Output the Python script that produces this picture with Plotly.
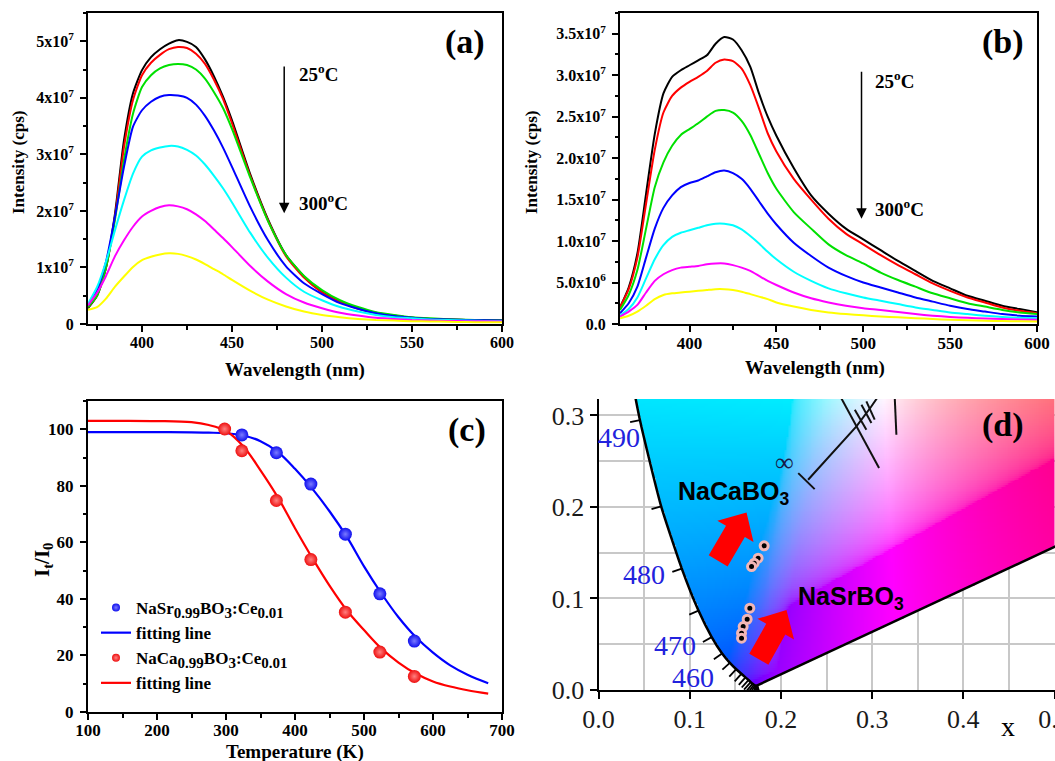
import numpy as np
import plotly.graph_objects as go

W, H = 1055, 761
SERIF = "Liberation Serif"
SANS = "Liberation Sans"


def px(x):
    return x / W


def py(y):
    return 1 - y / H


# ---------------- panel (a): NaSrBO3 emission spectra (units of 1e7 cps) ----------------
wl_a = [370, 375, 380, 385, 390, 395, 400, 405, 410, 415, 420, 425, 430, 435, 440, 445, 450,
        460, 470, 480, 490, 500, 510, 520, 530, 540, 550, 560, 570, 580, 590, 600]
black_a = [0.28, 0.5, 1.0, 1.95, 3.25, 4.08, 4.49, 4.72, 4.86, 4.96, 5.02, 4.99, 4.9, 4.68, 4.38, 4.02, 3.6,
           2.66, 1.85, 1.22, 0.84, 0.57, 0.4, 0.28, 0.2, 0.15, 0.11, 0.09, 0.08, 0.07, 0.065, 0.06]
red_a = [0.3, 0.5, 1.0, 1.9, 3.13, 3.96, 4.4, 4.62, 4.76, 4.86, 4.9, 4.88, 4.78, 4.6, 4.32, 3.98, 3.55,
         2.63, 1.83, 1.2, 0.82, 0.56, 0.39, 0.27, 0.19, 0.14, 0.11, 0.09, 0.08, 0.07, 0.065, 0.06]
green_a = [0.3, 0.5, 1.0, 1.85, 2.9, 3.72, 4.19, 4.4, 4.52, 4.58, 4.6, 4.58, 4.5, 4.34, 4.1, 3.82, 3.45,
           2.6, 1.82, 1.22, 0.85, 0.6, 0.42, 0.3, 0.21, 0.16, 0.12, 0.1, 0.085, 0.075, 0.07, 0.065]
blue_a = [0.33, 0.6, 1.1, 1.9, 2.78, 3.49, 3.78, 3.93, 4.02, 4.05, 4.04, 4.0, 3.88, 3.68, 3.42, 3.12, 2.78,
          2.08, 1.48, 1.02, 0.72, 0.53, 0.37, 0.27, 0.19, 0.14, 0.11, 0.09, 0.08, 0.07, 0.065, 0.06]
cyan_a = [0.36, 0.65, 1.1, 1.66, 2.19, 2.66, 2.96, 3.07, 3.12, 3.15, 3.14, 3.08, 2.98, 2.82, 2.62, 2.4, 2.15,
          1.62, 1.17, 0.82, 0.57, 0.42, 0.3, 0.22, 0.16, 0.12, 0.1, 0.08, 0.07, 0.06, 0.055, 0.05]
magenta_a = [0.33, 0.55, 0.85, 1.2, 1.48, 1.72, 1.9, 2.0, 2.07, 2.1, 2.08, 2.03, 1.94, 1.82, 1.67, 1.52, 1.36,
             1.03, 0.75, 0.53, 0.38, 0.28, 0.2, 0.15, 0.11, 0.09, 0.07, 0.06, 0.055, 0.05, 0.05, 0.045]
yellow_a = [0.25, 0.3, 0.45, 0.66, 0.84, 1.01, 1.13, 1.19, 1.23, 1.25, 1.24, 1.2, 1.14, 1.06, 0.97, 0.88, 0.78,
            0.59, 0.43, 0.31, 0.22, 0.16, 0.12, 0.09, 0.07, 0.06, 0.05, 0.045, 0.04, 0.035, 0.03, 0.03]

# ---------------- panel (b): NaCaBO3 emission spectra (units of 1e7 cps) ----------------
wl_b = [360, 365, 370, 375, 380, 385, 390, 395, 400, 405, 410, 415, 420, 425, 430, 435, 440, 445, 450,
        460, 470, 480, 490, 500, 510, 520, 530, 540, 550, 560, 570, 580, 590, 600]
black_b = [0.2, 0.44, 0.85, 1.57, 2.29, 2.78, 2.98, 3.06, 3.12, 3.18, 3.24, 3.38, 3.46, 3.43, 3.3, 3.1, 2.78, 2.5, 2.27,
           1.88, 1.55, 1.33, 1.15, 1.02, 0.89, 0.76, 0.64, 0.52, 0.43, 0.34, 0.28, 0.22, 0.18, 0.14]
red_b = [0.2, 0.42, 0.8, 1.45, 2.1, 2.55, 2.75, 2.85, 2.92, 2.98, 3.05, 3.15, 3.19, 3.17, 3.08, 2.88, 2.6, 2.3, 2.08,
         1.75, 1.5, 1.27, 1.09, 0.96, 0.83, 0.71, 0.6, 0.49, 0.4, 0.32, 0.26, 0.2, 0.16, 0.13]
green_b = [0.17, 0.35, 0.65, 1.15, 1.65, 1.95, 2.15, 2.28, 2.35, 2.42, 2.5, 2.57, 2.58, 2.55, 2.45, 2.28, 2.05, 1.82, 1.63,
           1.35, 1.15, 0.96, 0.83, 0.73, 0.62, 0.53, 0.45, 0.37, 0.31, 0.25, 0.21, 0.17, 0.14, 0.12]
blue_b = [0.13, 0.25, 0.45, 0.8, 1.15, 1.4, 1.55, 1.65, 1.7, 1.73, 1.78, 1.83, 1.85, 1.82, 1.75, 1.63, 1.48, 1.33, 1.2,
          0.98, 0.82, 0.68, 0.58, 0.5, 0.44, 0.38, 0.32, 0.27, 0.22, 0.18, 0.15, 0.12, 0.1, 0.09]
cyan_b = [0.1, 0.18, 0.32, 0.55, 0.78, 0.95, 1.05, 1.1, 1.13, 1.16, 1.19, 1.21, 1.21, 1.19, 1.14, 1.06, 0.97, 0.87, 0.78,
          0.63, 0.52, 0.43, 0.37, 0.32, 0.28, 0.24, 0.2, 0.17, 0.14, 0.12, 0.1, 0.085, 0.075, 0.07]
magenta_b = [0.09, 0.15, 0.23, 0.38, 0.52, 0.6, 0.65, 0.68, 0.69, 0.7, 0.72, 0.73, 0.73, 0.71, 0.68, 0.64, 0.58, 0.52, 0.47,
             0.38, 0.31, 0.26, 0.22, 0.19, 0.17, 0.145, 0.12, 0.1, 0.085, 0.075, 0.065, 0.06, 0.055, 0.05]
yellow_b = [0.07, 0.1, 0.15, 0.22, 0.3, 0.35, 0.37, 0.38, 0.39, 0.4, 0.41, 0.42, 0.42, 0.41, 0.39, 0.36, 0.33, 0.3, 0.26,
            0.21, 0.17, 0.14, 0.12, 0.105, 0.09, 0.08, 0.07, 0.06, 0.05, 0.045, 0.04, 0.035, 0.033, 0.03]

curve_colors = ["#000000", "#ff0000", "#00e000", "#0000ff", "#00ffff", "#ff00ff", "#ffff00"]

# ---------------- panel (c): thermal quenching ----------------
temp_sr = [323, 373, 423, 473, 523, 573]
ratio_sr = [98.0, 91.7, 80.6, 62.9, 41.8, 25.1]
temp_ca = [298, 323, 373, 423, 473, 523, 573]
ratio_ca = [100.1, 92.4, 74.8, 53.9, 35.3, 21.2, 12.6]
fit_t = [100, 150, 200, 250, 275, 300, 325, 350, 375, 400, 425, 450, 475, 500, 525, 550, 575, 600, 625, 650, 680]
fit_sr = [99, 99, 99, 98.9, 98.8, 98.6, 97.8, 95.8, 92, 86, 79, 71, 62, 51.5, 42, 33.5, 26.5, 21, 16.5, 13.2, 10.2]
fit_ca = [103, 103, 102.9, 102.5, 101.5, 99.4, 94, 85.5, 76, 65, 54.5, 44.7, 36, 29, 22.5, 17.5, 13.6, 10.8, 9, 7.7, 6.5]

# ---------------- panel (d): CIE 1931 chromaticity ----------------
locus_nm = [380, 385, 390, 395, 400, 405, 410, 415, 420, 425, 430, 435, 440, 445, 450, 455, 460, 465, 470, 475,
            480, 485, 490, 495, 500, 505, 510, 520, 530, 540, 550, 560, 570, 580, 590, 600, 620, 640, 700]
locus_x = [0.1741, 0.1740, 0.1738, 0.1736, 0.1733, 0.1730, 0.1726, 0.1721, 0.1714, 0.1703, 0.1689, 0.1669, 0.1644,
           0.1611, 0.1566, 0.1510, 0.1440, 0.1355, 0.1241, 0.1096, 0.0913, 0.0687, 0.0454, 0.0235, 0.0082, 0.0039,
           0.0139, 0.0743, 0.1547, 0.2296, 0.3016, 0.3731, 0.4441, 0.5125, 0.5752, 0.6270, 0.6915, 0.7190, 0.7347]
locus_y = [0.0050, 0.0050, 0.0049, 0.0049, 0.0048, 0.0048, 0.0048, 0.0048, 0.0051, 0.0058, 0.0069, 0.0086, 0.0109,
           0.0138, 0.0177, 0.0227, 0.0297, 0.0399, 0.0578, 0.0868, 0.1327, 0.2007, 0.2950, 0.4127, 0.5384, 0.6548,
           0.7502, 0.8338, 0.8059, 0.7543, 0.6923, 0.6245, 0.5547, 0.4866, 0.4242, 0.3725, 0.3083, 0.2809, 0.2653]
cie_ca_x = [0.1816, 0.1750, 0.1707, 0.1678]
cie_ca_y = [0.1575, 0.1441, 0.1386, 0.1349]
cie_sr_x = [0.1659, 0.1630, 0.1586, 0.1568, 0.1568]
cie_sr_y = [0.0894, 0.0773, 0.0693, 0.0620, 0.0566]
wl_labels = ["490", "480", "470", "460", "380"]
wl_label_x = [0.022, 0.050, 0.084, 0.104, 0.212]
wl_label_y = [0.276, 0.126, 0.049, 0.014, -0.002]
planck_x = [0.2298, 0.2828, 0.2985, 0.3075]
planck_y = [0.2298, 0.2880, 0.3090, 0.3220]
iso_lines = [  # (x0, y0, x1, y1)
    (0.2190, 0.2370, 0.2370, 0.2195),
    (0.2645, 0.3220, 0.3076, 0.2426),
    (0.2810, 0.3063, 0.2937, 0.2845),
    (0.2883, 0.3118, 0.2992, 0.2918),
    (0.2937, 0.3154, 0.3028, 0.2954),
    (0.3247, 0.3220, 0.3266, 0.2790),
]

fig = go.Figure()

# ---- spectra
series_a = [black_a, red_a, green_a, blue_a, cyan_a, magenta_a, yellow_a]
series_b = [black_b, red_b, green_b, blue_b, cyan_b, magenta_b, yellow_b]
for s, c in zip(series_a, curve_colors):
    fig.add_trace(go.Scatter(x=wl_a, y=[v * 1e7 for v in s], mode="lines", xaxis="x", yaxis="y",
                             line=dict(color=c, width=2, shape="spline", smoothing=0.6),
                             showlegend=False, hoverinfo="skip"))
for s, c in zip(series_b, curve_colors):
    fig.add_trace(go.Scatter(x=wl_b, y=[v * 1e7 for v in s], mode="lines", xaxis="x2", yaxis="y2",
                             line=dict(color=c, width=2, shape="spline", smoothing=0.6),
                             showlegend=False, hoverinfo="skip"))

# ---- thermal quenching
SUB = "<sub><span style='font-size:15px'>{}</span></sub>"
name_sr = "NaSr" + SUB.format("0.99") + "BO" + SUB.format("3") + ":Ce" + SUB.format("0.01")
name_ca = "NaCa" + SUB.format("0.99") + "BO" + SUB.format("3") + ":Ce" + SUB.format("0.01")
sr_marker = dict(color="#1010ee", gradient=dict(type="radial", color="#7a7aff"), line=dict(width=0))
ca_marker = dict(color="#ee1010", gradient=dict(type="radial", color="#ff8080"), line=dict(width=0))
fig.add_trace(go.Scatter(x=fit_t, y=fit_sr, mode="lines", xaxis="x3", yaxis="y3", name="fitting line",
                         line=dict(color="#0000ff", width=2.2, shape="spline"), legendrank=2))
fig.add_trace(go.Scatter(x=fit_t, y=fit_ca, mode="lines", xaxis="x3", yaxis="y3", name="fitting line",
                         line=dict(color="#ff0000", width=2.2, shape="spline"), legendrank=4))
fig.add_trace(go.Scatter(x=temp_sr, y=ratio_sr, mode="markers", xaxis="x3", yaxis="y3", name=name_sr,
                         marker=dict(size=13, **sr_marker), showlegend=False))
fig.add_trace(go.Scatter(x=temp_ca, y=ratio_ca, mode="markers", xaxis="x3", yaxis="y3", name=name_ca,
                         marker=dict(size=13, **ca_marker), showlegend=False))
# legend-only entries with the small symbols used in the legend box
fig.add_trace(go.Scatter(x=[None], y=[None], mode="markers", xaxis="x3", yaxis="y3", name=name_sr,
                         marker=dict(size=8, **sr_marker), legendrank=1))
fig.add_trace(go.Scatter(x=[None], y=[None], mode="markers", xaxis="x3", yaxis="y3", name=name_ca,
                         marker=dict(size=8, **ca_marker), legendrank=3))

# ---- CIE background (colour of each chromaticity inside the spectral locus)
gx = np.arange(0.001, 0.5, 0.002)
gy = np.arange(0.001, 0.318, 0.002)
XX, YY = np.meshgrid(gx, gy)
lx = np.array(locus_x)
ly = np.array(locus_y)
inside = np.zeros(XX.shape, dtype=bool)
j = len(lx) - 1
for i in range(len(lx)):
    xi, yi, xj, yj = lx[i], ly[i], lx[j], ly[j]
    cond = ((yi > YY) != (yj > YY)) & (XX < (xj - xi) * (YY - yi) / (yj - yi + 1e-12) + xi)
    inside ^= cond
    j = i
Xc = XX / YY
Zc = (1 - XX - YY) / YY
XYZ = np.stack([Xc, np.ones_like(Xc), Zc], axis=-1)
M_srgb = np.array([[3.2406, -1.5372, -0.4986], [-0.9689, 1.8758, 0.0415], [0.0557, -0.2040, 1.0570]])
M_cie = np.array([[2.3647, -0.8966, -0.4681], [-0.5152, 1.4264, 0.0887], [0.0052, -0.0144, 1.0092]])


def to_rgb(M):
    v = np.clip(XYZ @ M.T, 0, None)
    return v / v.max(axis=-1, keepdims=True)


rgb_s = to_rgb(M_srgb)
rgb_c = to_rgb(M_cie)
wgt = np.clip(rgb_s[..., :1] * 4, 0, 1)
rgb = (wgt * rgb_s + (1 - wgt) * rgb_c) ** 0.38
img = np.zeros(XX.shape + (4,), dtype=int)
img[..., :3] = np.round(rgb * 255).astype(int)
img[..., 3] = np.where(inside, 255, 0)
fig.add_trace(go.Image(z=img.tolist(), x0=0.001, dx=0.002, y0=0.001, dy=0.002, colormodel="rgba256",
                       zsmooth="fast", xaxis="x4", yaxis="y4", hoverinfo="skip"))

# spectral locus line and purple line
vis = [k for k, nm in enumerate(locus_nm) if nm <= 505]
fig.add_trace(go.Scatter(x=[locus_x[k] for k in vis], y=[locus_y[k] for k in vis], mode="lines",
                         xaxis="x4", yaxis="y4", line=dict(color="black", width=2.5, shape="spline", smoothing=0.5),
                         showlegend=False, hoverinfo="skip"))
fig.add_trace(go.Scatter(x=[locus_x[0], locus_x[-1]], y=[locus_y[0], locus_y[-1]], mode="lines",
                         xaxis="x4", yaxis="y4", line=dict(color="black", width=2.5),
                         showlegend=False, hoverinfo="skip"))
# wavelength tick marks (outward normals of the locus)
tk_x, tk_y = [], []
for k, nm in enumerate(locus_nm):
    if nm > 490:
        break
    a = max(k - 1, 0)
    b = k + 1
    tx, ty = lx[b] - lx[a], ly[b] - ly[a]
    nrm = np.hypot(tx, ty)
    nx, ny = -ty / nrm, tx / nrm
    tk_x += [lx[k], lx[k] + 0.011 * nx, None]
    tk_y += [ly[k], ly[k] + 0.011 * ny, None]
fig.add_trace(go.Scatter(x=tk_x, y=tk_y, mode="lines", xaxis="x4", yaxis="y4",
                         line=dict(color="black", width=1.8), showlegend=False, hoverinfo="skip"))
# Planckian locus and isotemperature lines
fig.add_trace(go.Scatter(x=planck_x, y=planck_y, mode="lines", xaxis="x4", yaxis="y4",
                         line=dict(color="#111111", width=2), showlegend=False, hoverinfo="skip"))
iso_x, iso_y = [], []
for x0, y0, x1, y1 in iso_lines:
    iso_x += [x0, x1, None]
    iso_y += [y0, y1, None]
fig.add_trace(go.Scatter(x=iso_x, y=iso_y, mode="lines", xaxis="x4", yaxis="y4",
                         line=dict(color="#111111", width=2), showlegend=False, hoverinfo="skip"))
# measured colour points
for cx, cy in [(cie_ca_x, cie_ca_y), (cie_sr_x, cie_sr_y)]:
    fig.add_trace(go.Scatter(x=cx, y=cy, mode="markers", xaxis="x4", yaxis="y4",
                             marker=dict(color="black", size=8, line=dict(color="#f2b6b6", width=3)),
                             showlegend=False, hoverinfo="skip"))


# ---- block arrows (red) in panel (d)
def block_arrow(tail, tip, shaft_hw=0.012, head_hw=0.023, head_len=0.024):
    tx, ty = tail
    hx, hy = tip
    dx, dy = hx - tx, hy - ty
    L = np.hypot(dx, dy)
    ux, uy = dx / L, dy / L
    nx, ny = -uy, ux
    bx, by = hx - head_len * ux, hy - head_len * uy
    pts = [(tx + shaft_hw * nx, ty + shaft_hw * ny), (bx + shaft_hw * nx, by + shaft_hw * ny),
           (bx + head_hw * nx, by + head_hw * ny), (hx, hy),
           (bx - head_hw * nx, by - head_hw * ny), (bx - shaft_hw * nx, by - shaft_hw * ny),
           (tx - shaft_hw * nx, ty - shaft_hw * ny)]
    path = "M " + " L ".join(f"{x:.5f},{y:.5f}" for x, y in pts) + " Z"
    return dict(type="path", path=path, xref="x4", yref="y4", fillcolor="#ff0000",
                line=dict(width=0), layer="above")


shapes = [block_arrow((0.1312, 0.1411), (0.1623, 0.1940)),
          block_arrow((0.1758, 0.0336), (0.2061, 0.0875))]

# ---------------- axes ----------------


def frame_axis(domain, rng, font_size=16, standoff=3, **kw):
    d = dict(domain=domain, range=rng, showline=True, linecolor="black", linewidth=2, mirror=True,
             ticks="outside", ticklen=6, tickwidth=1.5, tickcolor="black", showgrid=False, zeroline=False,
             automargin=False, ticklabelstandoff=standoff,
             tickfont=dict(family=SERIF, size=font_size, color="black", weight="bold"))
    d.update(kw)
    return d


minor_style = dict(ticks="outside", ticklen=3.5, tickwidth=1.5, tickcolor="black")

ya_vals = [0, 1e7, 2e7, 3e7, 4e7, 5e7]
ya_text = ["0"] + [f"{k}x10<sup>7</sup>" for k in range(1, 6)]
yb_vals = [0, 5e6, 1e7, 1.5e7, 2e7, 2.5e7, 3e7, 3.5e7]
yb_text = ["0.0", "5.0x10<sup>6</sup>", "1.0x10<sup>7</sup>", "1.5x10<sup>7</sup>", "2.0x10<sup>7</sup>",
           "2.5x10<sup>7</sup>", "3.0x10<sup>7</sup>", "3.5x10<sup>7</sup>"]
wl_ticks = [400, 450, 500, 550, 600]

top_dom = [py(324), py(13)]
fig.update_layout(
    xaxis=frame_axis([px(88), px(502)], [370, 600], standoff=-3, tickvals=wl_ticks,
                     minor=dict(dtick=25, tick0=375, **minor_style), anchor="y"),
    yaxis=frame_axis(top_dom, [0, 5.5e7], tickvals=ya_vals, ticktext=ya_text,
                     minor=dict(dtick=5e6, tick0=0, **minor_style), anchor="x"),
    xaxis2=frame_axis([px(620), px(1037)], [360, 600], font_size=17, standoff=-3, tickvals=wl_ticks,
                      minor=dict(dtick=25, tick0=375, **minor_style), anchor="y2"),
    yaxis2=frame_axis(top_dom, [0, 3.75e7], font_size=16, tickvals=yb_vals, ticktext=yb_text,
                      minor=dict(dtick=2.5e6, tick0=0, **minor_style), anchor="x2"),
    xaxis3=frame_axis([px(88), px(502)], [100, 700], font_size=17, standoff=-4, dtick=100, tick0=100,
                      minor=dict(dtick=50, tick0=100, **minor_style), anchor="y3"),
    yaxis3=frame_axis([py(712), py(401)], [0, 110], font_size=17, dtick=20, tick0=0,
                      minor=dict(dtick=10, tick0=0, **minor_style), anchor="x3"),
    xaxis4=dict(domain=[px(598.5), 1.0], range=[0, 0.5005], anchor="y4", showline=True, linecolor="black",
                linewidth=2, ticks="outside", ticklen=7, tickwidth=1.5, tickcolor="black", dtick=0.1, tick0=0,
                tickformat=".1f", showgrid=True, gridcolor="#c8c8c8", gridwidth=1.5, zeroline=False,
                minor=dict(dtick=0.05, tick0=0, showgrid=True, gridcolor="#c8c8c8", gridwidth=1.5),
                ticklabeloverflow="allow", automargin=False, ticklabelstandoff=-2,
                tickfont=dict(family=SERIF, size=26, color="#1a1a1a")),
    yaxis4=dict(domain=[py(690), py(399)], range=[0, 0.318], anchor="x4", showline=True, linecolor="black",
                linewidth=2, ticks="outside", ticklen=7, tickwidth=1.5, tickcolor="black", dtick=0.1, tick0=0,
                tickformat=".1f", showgrid=True, gridcolor="#c8c8c8", gridwidth=1.5, zeroline=False,
                minor=dict(dtick=0.05, tick0=0, showgrid=True, gridcolor="#c8c8c8", gridwidth=1.5),
                scaleanchor=False, autorange=False, automargin=False,
                tickfont=dict(family=SERIF, size=26, color="#1a1a1a")),
)

ann = []


def label(text, x, y, size, angle=0, weight="bold", family=SERIF, color="black", xanchor="center",
          xref="paper", yref="paper"):
    ann.append(dict(text=text, x=x, y=y, xref=xref, yref=yref, showarrow=False, textangle=angle,
                    xanchor=xanchor, yanchor="middle",
                    font=dict(family=family, size=size, color=color, weight=weight)))


# axis titles
label("Intensity (cps)", px(18), py(163), 17, angle=-90)
label("Wavelength (nm)", px(295), py(370), 19)
label("Intensity (cps)", px(531), py(163), 17, angle=-90)
label("Wavelength (nm)", px(815), py(368), 19)
label("I<sub>t</sub>/I<sub>0</sub>", px(43), py(560), 21, angle=-90)
label("Temperature (K)", px(295), py(752), 19)
label("x", px(1008), py(726), 28, weight="normal")
# panel labels
label("(a)", px(465), py(42), 34)
label("(b)", px(1003), py(42), 34)
label("(c)", px(467), py(430), 34)
label("(d)", px(1003), py(425), 34)
# temperature annotations
label("25<sup>o</sup>C", px(297), py(73), 19, xanchor="left")
label("300<sup>o</sup>C", px(297), py(202), 19, xanchor="left")
label("25<sup>o</sup>C", px(873), py(80), 19, xanchor="left")
label("300<sup>o</sup>C", px(873), py(208), 19, xanchor="left")
for arrow_x, y_top, y_bot, xr, yr in [(479, 4.58e7, 1.96e7, "x", "y"), (499, 3.06e7, 1.27e7, "x2", "y2")]:
    ann.append(dict(x=arrow_x, y=y_bot, ax=arrow_x, ay=y_top, xref=xr, yref=yr, axref=xr, ayref=yr,
                    text="", showarrow=True, arrowhead=2, arrowsize=1.4, arrowwidth=1.5, arrowcolor="black"))
# CIE labels
for t, x, y in zip(wl_labels, wl_label_x, wl_label_y):
    label(t, x, y, 28, weight="normal", color="#2222dd", xref="x4", yref="y4")
label("\u221e", 0.2035, 0.2487, 26, weight="normal", color="#1a1a4a", xref="x4", yref="y4")
label("NaCaBO<sub>3</sub>", 0.1476, 0.215, 25, family=SANS, xref="x4", yref="y4")
label("NaSrBO<sub>3</sub>", 0.2773, 0.100, 25, family=SANS, xref="x4", yref="y4")

fig.update_layout(
    width=W, height=H, margin=dict(l=0, r=0, t=0, b=0, pad=0, autoexpand=False),
    paper_bgcolor="white", plot_bgcolor="white",
    annotations=ann, shapes=shapes,
    showlegend=True,
    legend=dict(x=px(96), y=py(590), xanchor="left", yanchor="top", bgcolor="rgba(0,0,0,0)",
                font=dict(family=SERIF, size=17, color="black", weight="bold"), tracegroupgap=0,
                itemwidth=30, itemsizing="trace"),
    font=dict(family=SERIF),
)

fig.write_html("out.html")
